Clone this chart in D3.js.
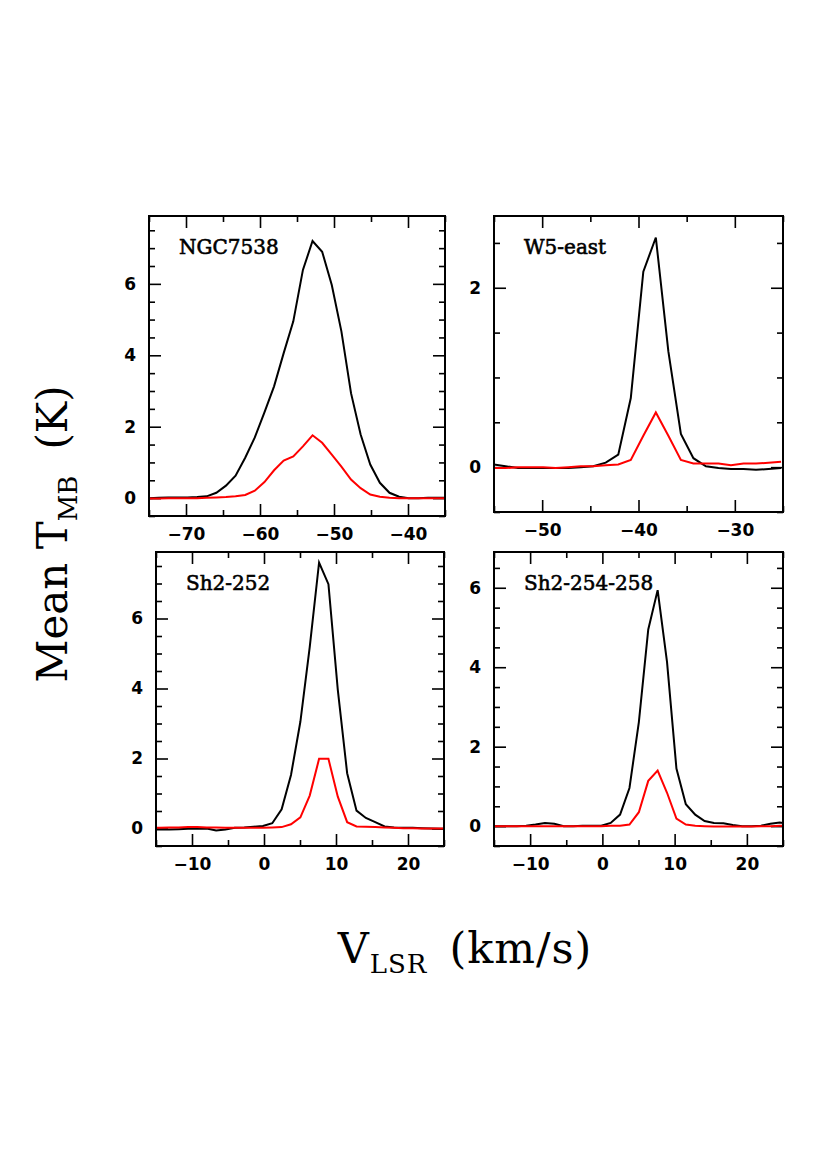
<!DOCTYPE html>
<html>
<head>
<meta charset="utf-8">
<script src="https://cdn.jsdelivr.net/npm/d3@7"></script>
<style>
	body { margin: 0; background: #fff; }
	svg { display: block; }
</style>
</head>
<body>
<div id="chart"></div>
<script>
// ---- data ----
const panelNames = ['NGC7538', 'W5-east', 'Sh2-252', 'Sh2-254-258'];

const xDomains = [[-75, -35], [-55, -25], [-15, 25], [-15, 25]];
const yDomains = [[-0.5, 7.9], [-0.5, 2.8], [-0.5, 7.9], [-0.5, 6.9]];

const velNGC = [-75.0, -73.7, -72.4, -71.1, -69.8, -68.5, -67.2, -65.9, -64.6, -63.3, -62.0, -60.7, -59.4, -58.1, -56.8, -55.5,
	-54.2, -52.9, -51.6, -50.3, -49.0, -47.7, -46.4, -45.1, -43.8, -42.5, -41.2, -39.9, -38.6, -37.3, -36.0, -34.7];
const blackNGC = [0.00, 0.01, 0.02, 0.02, 0.02, 0.03, 0.05, 0.15, 0.35, 0.63, 1.13, 1.70, 2.40, 3.13, 4.06, 4.95,
	6.39, 7.20, 6.90, 5.97, 4.67, 2.94, 1.78, 0.94, 0.43, 0.15, 0.04, 0.00, 0.00, 0.01, 0.01, 0.01];
const redNGC = [-0.01, -0.01, 0.00, 0.00, 0.00, 0.00, 0.01, 0.02, 0.03, 0.05, 0.09, 0.21, 0.45, 0.78, 1.05, 1.17,
	1.45, 1.76, 1.55, 1.22, 0.88, 0.52, 0.28, 0.10, 0.04, 0.01, 0.00, 0.00, 0.00, 0.00, 0.00, 0.00];

const velW5 = [-55.1, -53.8, -52.5, -51.2, -49.9, -48.6, -47.3, -46.0, -44.7, -43.4, -42.1, -40.8,
	-39.5, -38.2, -36.9, -35.6, -34.3, -33.0, -31.7, -30.4, -29.1, -27.8, -26.5, -25.2];
const blackW5 = [0.03, 0.01, -0.01, -0.01, -0.01, -0.01, -0.01, 0.00, 0.01, 0.05, 0.14, 0.77,
	2.18, 2.56, 1.29, 0.37, 0.10, 0.01, -0.01, -0.02, -0.02, -0.03, -0.02, -0.01];
const redW5 = [-0.01, -0.01, 0.00, 0.00, 0.00, -0.01, 0.00, 0.01, 0.01, 0.02, 0.03, 0.08,
	0.35, 0.61, 0.35, 0.08, 0.04, 0.04, 0.04, 0.02, 0.04, 0.04, 0.05, 0.06];

// Sh2 fields share the same channels
const velSh2 = [-15.75, -14.45, -13.15, -11.85, -10.55, -9.25, -7.95, -6.65, -5.35, -4.05, -2.75, -1.45, -0.15,
	1.15, 2.45, 3.75, 5.05, 6.35, 7.65, 8.95, 10.25, 11.55, 12.85, 14.15, 15.45, 16.75, 18.05, 19.35, 20.65,
	21.95, 23.25, 24.55, 25.85];
const black252 = [-0.02, -0.03, -0.03, -0.02, -0.01, -0.01, 0.00, -0.06, -0.03, 0.02, 0.03, 0.05, 0.07,
	0.15, 0.55, 1.53, 3.05, 5.18, 7.60, 6.98, 3.96, 1.58, 0.51, 0.30, 0.18, 0.06, 0.03, 0.02, 0.02,
	0.01, 0.00, -0.01, -0.01];
const red252 = [0.02, 0.02, 0.03, 0.03, 0.04, 0.04, 0.03, 0.03, 0.02, 0.02, 0.02, 0.02, 0.02,
	0.03, 0.04, 0.12, 0.32, 0.94, 1.99, 1.99, 0.91, 0.18, 0.06, 0.05, 0.04, 0.03, 0.02, 0.01, 0.01,
	0.00, 0.00, 0.00, 0.00];
const black254 = [0.00, 0.00, 0.00, 0.00, 0.01, 0.04, 0.08, 0.06, 0.00, 0.00, 0.01, 0.01, 0.01,
	0.08, 0.29, 0.96, 2.62, 4.95, 5.94, 4.13, 1.45, 0.55, 0.29, 0.13, 0.08, 0.07, 0.03, 0.00, 0.00,
	0.01, 0.06, 0.09, 0.06];
const red254 = [0.00, 0.00, 0.00, 0.00, 0.00, 0.00, 0.00, 0.00, 0.00, 0.00, 0.00, 0.00, 0.00,
	0.01, 0.01, 0.04, 0.35, 1.14, 1.40, 0.84, 0.19, 0.04, 0.01, 0.00, -0.01, -0.01, -0.01, -0.01, -0.01,
	0.00, 0.00, 0.01, 0.01];

const velocities = [velNGC, velW5, velSh2, velSh2];
const blackSeries = [blackNGC, blackW5, black252, black254];
const redSeries = [redNGC, redW5, red252, red254];

// ---- layout ----
const frames = [
	{ x0: 149, x1: 445, y0: 216, y1: 516 },
	{ x0: 494, x1: 783, y0: 216, y1: 512 },
	{ x0: 156, x1: 444, y0: 552, y1: 846 },
	{ x0: 494, x1: 783, y0: 552, y1: 846 }
];

const svg = d3.select('#chart').append('svg')
	.attr('width', 830)
	.attr('height', 1175);

function stepRange(domain, step) {
	const out = [];
	for (let v = Math.ceil(domain[0] / step) * step; v <= domain[1] + 1e-9; v += step) out.push(+v.toFixed(3));
	return out;
}

panelNames.forEach((name, i) => {
	const f = frames[i];
	const x = d3.scaleLinear().domain(xDomains[i]).range([f.x0, f.x1]);
	const y = d3.scaleLinear().domain(yDomains[i]).range([f.y1, f.y0]);
	const g = svg.append('g');

	g.append('clipPath').attr('id', 'clip' + i)
		.append('rect')
		.attr('x', f.x0).attr('y', f.y0)
		.attr('width', f.x1 - f.x0).attr('height', f.y1 - f.y0);

	const majorX = stepRange(xDomains[i], 10);
	const minorX = stepRange(xDomains[i], 5).filter(v => !majorX.includes(v));
	const majorY = stepRange(yDomains[i], 2);
	const minorY = stepRange(yDomains[i], 0.5).filter(v => !majorY.includes(v));

	const fmt = d3.format('d');

	// bottom / left with labels
	g.append('g').attr('class', 'ax').attr('transform', `translate(0,${f.y1})`)
		.call(d3.axisBottom(x).tickValues(majorX).tickSize(-12).tickSizeOuter(0).tickPadding(12).tickFormat(fmt));
	g.append('g').attr('class', 'ax').attr('transform', `translate(0,${f.y1})`)
		.call(d3.axisBottom(x).tickValues(minorX).tickSize(-6).tickSizeOuter(0).tickFormat(''));
	g.append('g').attr('class', 'ax').attr('transform', `translate(${f.x0},0)`)
		.call(d3.axisLeft(y).tickValues(majorY).tickSize(-12).tickSizeOuter(0).tickPadding(13).tickFormat(fmt));
	g.append('g').attr('class', 'ax').attr('transform', `translate(${f.x0},0)`)
		.call(d3.axisLeft(y).tickValues(minorY).tickSize(-6).tickSizeOuter(0).tickFormat(''));

	// top / right, ticks only
	g.append('g').attr('class', 'ax').attr('transform', `translate(0,${f.y0})`)
		.call(d3.axisTop(x).tickValues(majorX).tickSize(-12).tickSizeOuter(0).tickFormat(''));
	g.append('g').attr('class', 'ax').attr('transform', `translate(0,${f.y0})`)
		.call(d3.axisTop(x).tickValues(minorX).tickSize(-6).tickSizeOuter(0).tickFormat(''));
	g.append('g').attr('class', 'ax').attr('transform', `translate(${f.x1},0)`)
		.call(d3.axisRight(y).tickValues(majorY).tickSize(-12).tickSizeOuter(0).tickFormat(''));
	g.append('g').attr('class', 'ax').attr('transform', `translate(${f.x1},0)`)
		.call(d3.axisRight(y).tickValues(minorY).tickSize(-6).tickSizeOuter(0).tickFormat(''));

	g.selectAll('.ax .domain').remove();
	g.selectAll('.ax line').attr('stroke', '#000').attr('stroke-width', 1.6);
	g.selectAll('.ax text')
		.attr('fill', '#000')
		.style('font-family', '"DejaVu Sans", sans-serif')
		.style('font-weight', 'bold')
		.style('font-size', '17px');

	const line = d3.line().x(d => x(d[0])).y(d => y(d[1]));
	const vel = velocities[i];

	g.append('path')
		.datum(d3.zip(vel, blackSeries[i]))
		.attr('clip-path', `url(#clip${i})`)
		.attr('fill', 'none')
		.attr('stroke', '#000')
		.attr('stroke-width', 2)
		.attr('d', line);

	g.append('path')
		.datum(d3.zip(vel, redSeries[i]))
		.attr('clip-path', `url(#clip${i})`)
		.attr('fill', 'none')
		.attr('stroke', '#ff0000')
		.attr('stroke-width', 2)
		.attr('d', line);

	g.append('rect')
		.attr('x', f.x0).attr('y', f.y0)
		.attr('width', f.x1 - f.x0).attr('height', f.y1 - f.y0)
		.attr('fill', 'none')
		.attr('stroke', '#000')
		.attr('stroke-width', 2);

	g.append('text')
		.attr('x', f.x0 + 30)
		.attr('y', f.y0 + 38)
		.style('font-family', '"DejaVu Serif", serif')
		.style('font-size', '20px')
		.attr('stroke', '#000')
		.attr('stroke-width', 0.6)
		.text(name);
});

// axis titles
const yTitle = svg.append('text')
	.attr('transform', 'translate(67,534) rotate(-90)')
	.attr('text-anchor', 'middle')
	.style('font-family', '"DejaVu Serif", serif')
	.style('font-size', '42px');
yTitle.append('tspan').text('Mean T');
yTitle.append('tspan').attr('dy', 10).style('font-size', '26px').text('MB');
yTitle.append('tspan').attr('dy', -10).attr('dx', 26).text('(K)');

const xTitle = svg.append('text')
	.attr('x', 465)
	.attr('y', 963)
	.attr('text-anchor', 'middle')
	.style('font-family', '"DejaVu Serif", serif')
	.style('font-size', '43px')
	.style('letter-spacing', '1px');
xTitle.append('tspan').text('V');
xTitle.append('tspan').attr('dy', 10).style('font-size', '26px').text('LSR');
xTitle.append('tspan').attr('dy', -10).attr('dx', 22).text('(km/s)');
</script>
</body>
</html>
